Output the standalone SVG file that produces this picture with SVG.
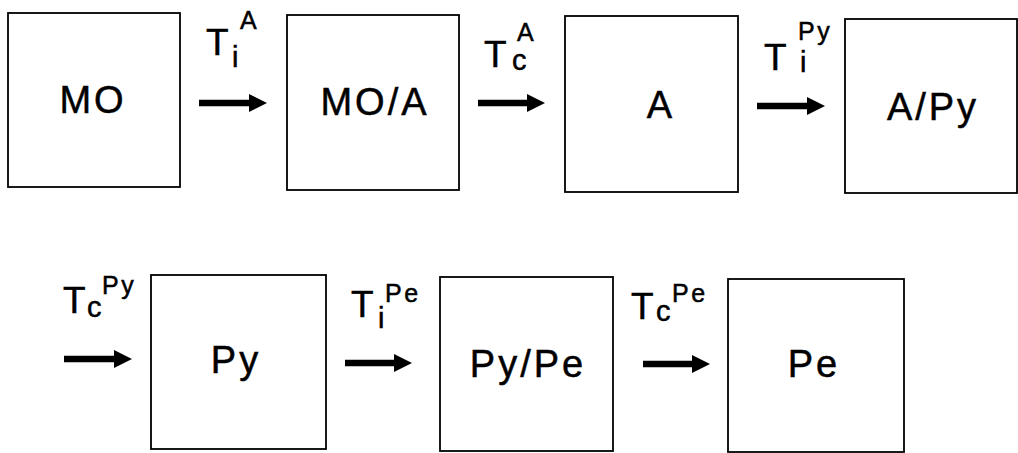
<svg xmlns="http://www.w3.org/2000/svg" width="1018" height="453" viewBox="0 0 1018 453">
<style>
.box{fill:#fff;stroke:#000;stroke-width:1.8}
.lbl{font-family:"Liberation Sans",Arial,sans-serif;font-size:38px;fill:#000;stroke:#000;stroke-width:0.5;letter-spacing:3px}
.t{font-family:"Liberation Sans",Arial,sans-serif;fill:#000;stroke:#000;stroke-width:0.5}
.big{font-size:37px}
.sub{font-size:29px}
.sup{font-size:25px;letter-spacing:2.5px}
.arr{stroke:#000;stroke-width:6.5;fill:none;marker-end:url(#ah)}
</style>
<defs>
<marker id="ah" markerUnits="userSpaceOnUse" markerWidth="18" markerHeight="18" viewBox="0 0 18 18" refX="2" refY="9" orient="auto">
<path d="M0,0 L18,9 L0,18 z" fill="#000"/>
</marker>
</defs>
<rect width="1018" height="453" fill="#fff"/>
<g id="node-MO"><rect class="box" x="8" y="13" width="172" height="174"/><text class="lbl" x="93" y="113" text-anchor="middle">MO</text></g>
<g id="node-MO-A"><rect class="box" x="287" y="15" width="172" height="175"/><text class="lbl" x="375" y="115" text-anchor="middle">MO/A</text></g>
<g id="node-A"><rect class="box" x="565" y="16" width="173" height="176"/><text class="lbl" x="661" y="118" text-anchor="middle">A</text></g>
<g id="node-A-Py"><rect class="box" x="845" y="19" width="172" height="174"/><text class="lbl" x="933" y="120" text-anchor="middle">A/Py</text></g>
<g id="node-Py"><rect class="box" x="151" y="275" width="175" height="174"/><text class="lbl" x="236" y="373" text-anchor="middle">Py</text></g>
<g id="node-Py-Pe"><rect class="box" x="440" y="277" width="173" height="174"/><text class="lbl" x="528" y="377" text-anchor="middle">Py/Pe</text></g>
<g id="node-Pe"><rect class="box" x="728" y="279" width="176" height="173"/><text class="lbl" x="814" y="377" text-anchor="middle">Pe</text></g>
<g id="connectors">
<line class="arr" x1="199" y1="103" x2="251" y2="103"/>
<line class="arr" x1="478" y1="103" x2="529" y2="103"/>
<line class="arr" x1="757" y1="106" x2="809" y2="106"/>
<line class="arr" x1="64" y1="359" x2="116" y2="359"/>
<line class="arr" x1="345" y1="363" x2="396" y2="363"/>
<line class="arr" x1="643" y1="364" x2="694" y2="364"/>
</g>
<g id="labels">
<text class="t big" x="206" y="55">T</text><text class="t sub" x="232" y="67">i</text><text class="t sup" x="240" y="29">A</text>
<text class="t big" x="484" y="67">T</text><text class="t sub" x="512" y="70">c</text><text class="t sup" x="517" y="41">A</text>
<text class="t big" x="764" y="70">T</text><text class="t sub" x="800" y="72">i</text><text class="t sup" x="798" y="40">Py</text>
<text class="t big" x="63" y="313">T</text><text class="t sub" x="87" y="317">c</text><text class="t sup" x="102" y="294">Py</text>
<text class="t big" x="351" y="317">T</text><text class="t sub" x="378" y="328">i</text><text class="t sup" x="385" y="302">Pe</text>
<text class="t big" x="631" y="319">T</text><text class="t sub" x="656" y="321">c</text><text class="t sup" x="672" y="302">Pe</text>
</g>
</svg>
